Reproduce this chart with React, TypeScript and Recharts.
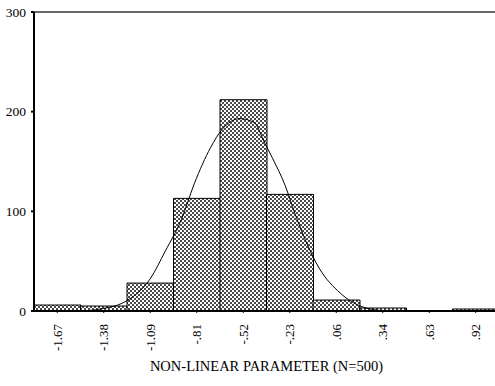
import { ComposedChart, Bar, Line, XAxis, YAxis, ReferenceLine } from 'recharts'

const binLabels = ['-1.67', '-1.38', '-1.09', '-.81', '-.52', '-.23', '.06', '.34', '.63', '.92']
const binCounts = [6, 5, 28, 113, 212, 117, 11, 3, 0, 2]
const yTicks = [0, 100, 200, 300]

// fitted normal curve
const curveX = [-1.53, -1.40, -1.23, -1.09, -1.0, -0.9, -0.82, -0.72, -0.65, -0.54, -0.45, -0.39, -0.34, -0.26, -0.2, -0.05, 0.08, 0.22, 0.36]
const curveY = [0, 2, 11, 33, 60, 92, 128, 164, 182, 193, 189, 170, 154, 126, 98, 43, 18, 4, 0]

const bins = binLabels.map((label, i) => ({ label, count: binCounts[i] }))
const curve = curveX.map((x, i) => ({ x, y: curveY[i] }))

const font = 'Liberation Serif, Times New Roman, serif'

function XTick(props: any) {
  const { x, y, payload } = props
  return (
    <text
      x={x}
      y={y + 9}
      transform={`rotate(-90, ${x}, ${y + 9})`}
      textAnchor="end"
      dy="0.35em"
      fontSize={13}
      fontFamily={font}
      fill="#000"
    >
      {payload.value}
    </text>
  )
}

export default function App() {
  return (
    <div style={{ position: 'absolute', left: 0, top: 0, width: 495, height: 386, overflow: 'hidden', background: '#fff' }}>
      <ComposedChart
        width={500}
        height={386}
        data={bins}
        barCategoryGap={0}
        margin={{ top: 12, right: 1, left: 0, bottom: 0 }}
        style={{ fontFamily: font }}
      >
        <defs>
          <pattern id="hatch" width="4" height="4" patternUnits="userSpaceOnUse">
            <rect width="4" height="4" fill="#fff" />
            <rect x="0" y="0" width="2" height="2" fill="#4a4a4a" />
            <rect x="2" y="2" width="2" height="2" fill="#4a4a4a" />
          </pattern>
        </defs>
        <XAxis
          xAxisId="bins"
          dataKey="label"
          height={75}
          axisLine={{ stroke: '#000', strokeWidth: 2 }}
          tickLine={{ stroke: '#000' }}
          tickSize={2}
          interval={0}
          tick={<XTick />}
          label={{ value: 'NON-LINEAR PARAMETER (N=500)', position: 'insideBottom', offset: 15, fill: '#000', fontSize: 14.5, fontFamily: font }}
        />
        <XAxis xAxisId="curve" type="number" dataKey="x" domain={[-1.81, 1.06]} hide allowDataOverflow />
        <YAxis
          width={34}
          domain={[0, 300]}
          ticks={yTicks}
          interval={0}
          axisLine={{ stroke: '#000', strokeWidth: 2 }}
          tickLine={{ stroke: '#000', strokeWidth: 2 }}
          tickSize={3}
          tickMargin={5}
          tick={{ fill: '#000', fontSize: 13.5, fontFamily: font }}
        />
        <ReferenceLine xAxisId="bins" y={300} stroke="#666" strokeWidth={2} />
        <Bar xAxisId="bins" dataKey="count" fill="url(#hatch)" stroke="#000" strokeWidth={1} isAnimationActive={false} />
        <Line
          xAxisId="curve"
          data={curve}
          dataKey="y"
          type="monotone"
          stroke="#000"
          strokeWidth={1}
          dot={false}
          isAnimationActive={false}
        />
      </ComposedChart>
    </div>
  )
}
